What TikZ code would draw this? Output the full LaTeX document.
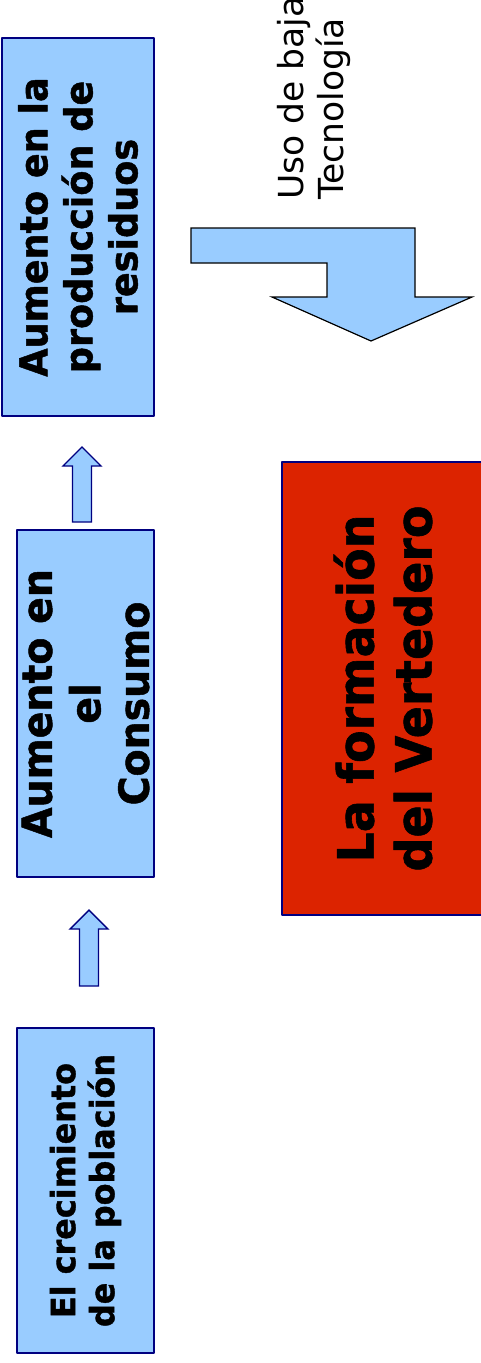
\documentclass[tikz,border=0pt]{standalone}
\usepackage{fontspec}
\setmainfont{DejaVu Sans}
\newfontfamily\boxfont{DejaVu Sans}[FakeStretch=0.95,BoldFeatures={FakeBold=1.2}]
\newfontfamily\redfont{DejaVu Sans}[FakeStretch=0.95,BoldFeatures={FakeBold=1.2}]
\usepackage{tikz}
\definecolor{cajaazul}{HTML}{99CCFF}
\definecolor{bordeazul}{HTML}{000080}
\definecolor{rojo}{HTML}{DC2300}
\tikzset{
  caja/.style={draw=bordeazul,fill=cajaazul,line width=1.4pt,rotate=90,align=center,inner sep=0pt},
  cajaroja/.style={caja,fill=rojo},
  flecha/.style={draw=bordeazul,fill=cajaazul,line width=1.4pt,line join=miter},
  flechagrande/.style={draw=black,fill=cajaazul,line width=1.2pt,line join=miter}
}
\newcommand{\flechaarriba}[3]{%
  \draw[flecha] (#1-9.5,#2) -- (#1-9.5,#3+19) -- (#1-19,#3+19) -- (#1,#3) -- (#1+19,#3+19) -- (#1+9.5,#3+19) -- (#1+9.5,#2) -- cycle;}
\begin{document}
\begin{tikzpicture}[line cap=round,line join=round,x=1pt,y=-1pt]
\useasboundingbox (0,0) rectangle (481,1363);
\node[caja,minimum width=378pt,minimum height=152pt,font=\boxfont\bfseries\fontsize{38.5}{45}\selectfont] (residuos) at (78,227) {Aumento en la\\producción de\\residuos};
\node[caja,minimum width=347pt,minimum height=137pt,font=\boxfont\bfseries\fontsize{41.5}{48.5}\selectfont] (consumo) at (85.5,703.5) {Aumento en\\el\\Consumo};
\node[caja,minimum width=325pt,minimum height=137pt,font=\boxfont\bfseries\fontsize{33.5}{39}\selectfont] (poblacion) at (85.5,1190.5) {El crecimiento\\de la población};
\node[cajaroja,minimum width=453pt,minimum height=202pt,font=\redfont\bfseries\fontsize{50}{58}\selectfont] (vertedero) at (383,688.5) {La formación\\del Vertedero};
\flechaarriba{82}{522}{447}
\flechaarriba{89}{986}{910}
\draw[flechagrande] (191,228) -- (415,228) -- (415,297) -- (472,297) -- (371,341) -- (272,297) -- (327,297) -- (327,263) -- (191,263) -- cycle;
\node[rotate=90,anchor=north west,align=left,inner sep=0pt,font=\fontsize{34.5}{40}\selectfont] (tecnologia) at (277,200) {Uso de baja\\Tecnología};
\end{tikzpicture}
\end{document}
